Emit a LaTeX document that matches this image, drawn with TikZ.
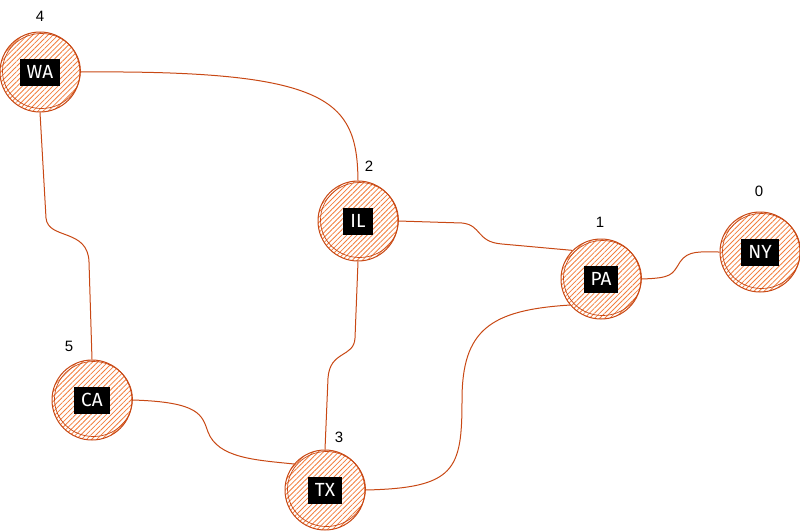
\documentclass[tikz,border=0pt]{standalone}
\usepackage{fontspec}
\setmainfont{Liberation Sans}
\newfontfamily\tagfont{Fira Sans}
\usetikzlibrary{patterns.meta}
\definecolor{rust}{RGB}{200,72,20}
\definecolor{hatch}{RGB}{242,125,60}
\tikzset{
  city/.style={circle, minimum size=80pt, inner sep=0pt, draw=rust, line width=1pt,
    pattern={Lines[angle=45,distance=3.6pt,line width=0.8pt]}, pattern color=hatch},
  tag/.style={fill=black, text=white, font=\tagfont\fontsize{19}{19}\selectfont,
    inner xsep=7pt, minimum height=27pt},
  rank/.style={font=\fontsize{15}{15}\selectfont},
  link/.style={draw=rust, line width=1pt}
}
\begin{document}
\begin{tikzpicture}[x=1pt,y=-1pt]
  \useasboundingbox (0,0) rectangle (800,531);
  \foreach \id/\txt/\X/\Y/\k/\KX/\KY in {wa/WA/40/72/4/40/16, il/IL/358/221/2/369/166,
      pa/PA/601/279/1/600/222, ny/NY/760/252/0/759/191,
      ca/CA/92/400/5/69/346, tx/TX/325/490/3/339/437} {
    \node[city] (\id) at (\X,\Y) {};
    \draw[rust, line width=0.7pt] (\X+1.5,\Y-1) ellipse (39pt and 37.5pt);
    \node[tag] (\id-tag) at (\id) {\txt};
    \node[rank] (\id-rank) at (\KX,\KY) {\k};
  }
  % connections
  \draw[link] (wa.east) .. controls (330,70) and (357,100) .. (il.north);
  \draw[link] (wa.south) -- (46,218) .. controls (48,240) and (88,228) .. (89,262) -- (ca.north);
  \draw[link] (il.east) -- (462,223) .. controls (482,225) and (476,242) .. (502,244) -- (pa.north west);
  \draw[link] (il.south) -- (355,338) .. controls (354,358) and (330,350) .. (328,378) -- (tx.north);
  \draw[link] (ca.east) .. controls (200,402) and (202,415) .. (208,432)
    .. controls (218,458) and (255,460) .. (tx.140);
  \draw[link] (tx.east) .. controls (455,488) and (462,470) .. (462,400)
    .. controls (462,330) and (490,310) .. (pa.-140);
  \draw[link] (pa.east) .. controls (672,278) and (672,275) .. (680,262)
    .. controls (688,250) and (700,252) .. (ny.west);
\end{tikzpicture}
\end{document}
